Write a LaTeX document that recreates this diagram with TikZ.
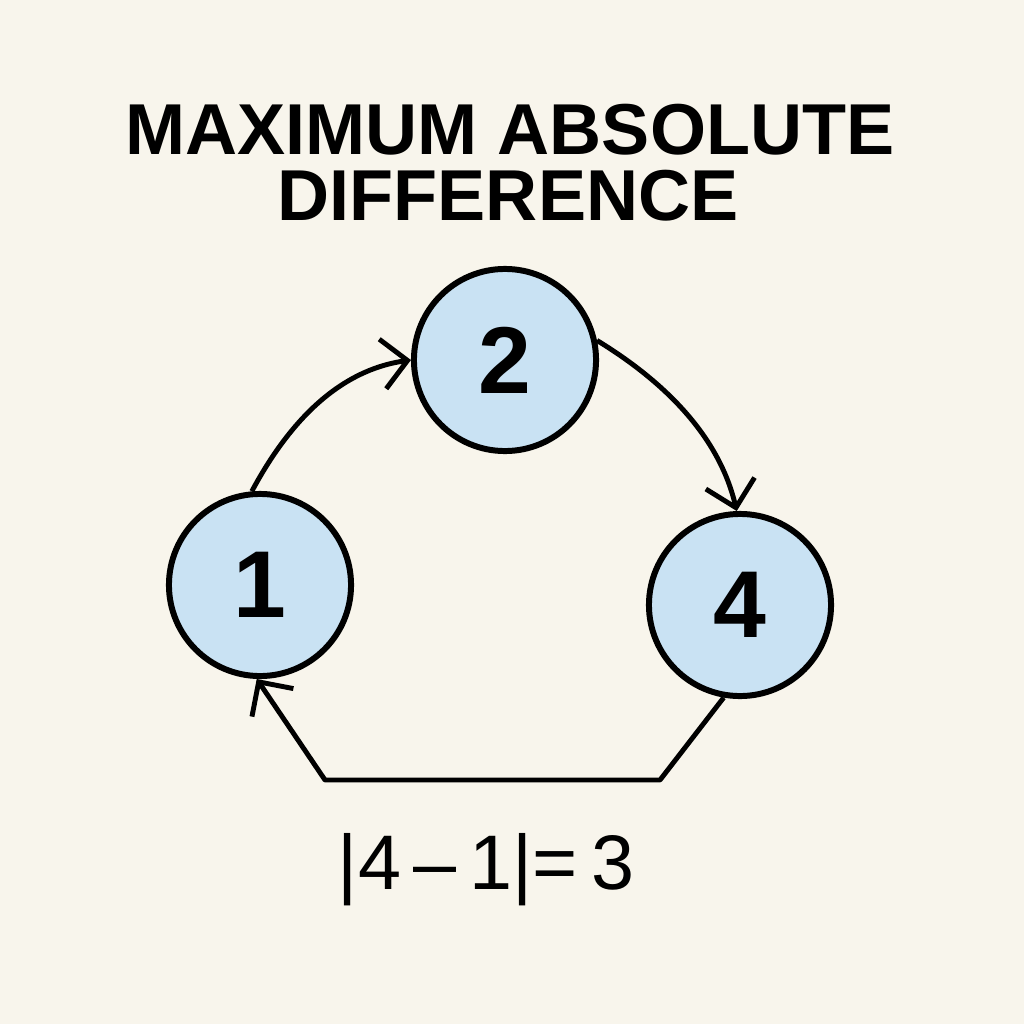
\documentclass[tikz,border=0pt]{standalone}
\usepackage{fontspec}
\setmainfont{Liberation Sans}
\usetikzlibrary{arrows.meta}
\definecolor{bg}{HTML}{F8F5EC}
\definecolor{nodefill}{HTML}{C9E2F3}
\begin{document}
\begin{tikzpicture}[x=0.01cm,y=-0.01cm,
  vert/.style={circle,draw=black,line width=1.7pt,fill=nodefill,minimum size=1.82cm,inner sep=0pt,font=\fontsize{27}{30}\selectfont\bfseries},
  conn/.style={line width=1.4pt,-{Straight Barb[length=0.25cm,width=0.5cm,line width=1.4pt]}}]
\fill[bg] (0,0) rectangle (1024,1024);
\useasboundingbox (0,0) rectangle (1024,1024);
\node[font=\fontsize{20.5}{24}\selectfont\bfseries] (t1) at (510,130) {MAXIMUM ABSOLUTE};
\node[font=\fontsize{20.5}{24}\selectfont\bfseries] (t2) at (508,196) {DIFFERENCE};
\node[vert] (n1) at (260,585) {1};
\node[vert] (n2) at (505,360) {2};
\node[vert] (n4) at (740,605) {4};
\draw[conn] (n1.95) .. controls (290,420) and (340,370) .. (n2.180);
\draw[conn] (n2.12) .. controls (670,385) and (720,440) .. (n4.92);
\coordinate (c1) at (660,780);
\coordinate (c2) at (325,780);
\draw[conn,line join=round] (n4.260) -- (c1) -- (c2) -- (n1.268);
\node[font=\fontsize{22}{26}\selectfont] (eq) at (486,870) {|4\,–\,1|=\,3};
\end{tikzpicture}
\end{document}
